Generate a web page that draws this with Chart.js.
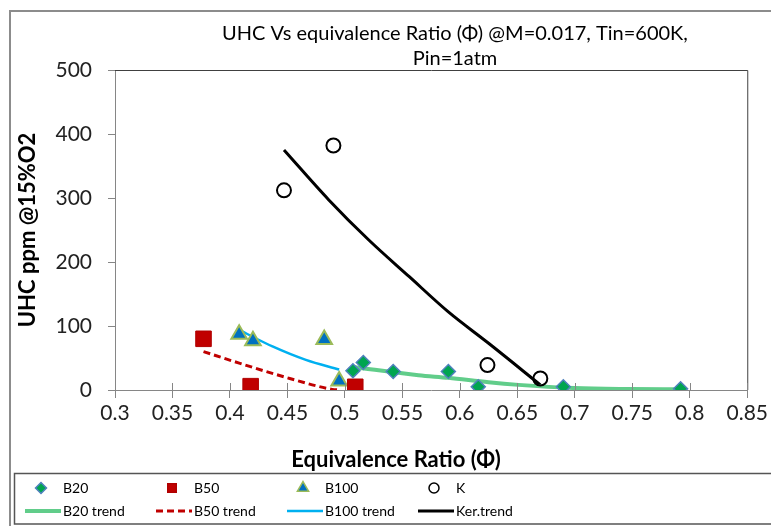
<!DOCTYPE html>
<html>
<head>
<meta charset="utf-8">
<script src="https://cdn.jsdelivr.net/npm/chart.js@4.4.1/dist/chart.umd.min.js"></script>
<style>
  html, body { margin: 0; padding: 0; background: #fff; }
  canvas { display: block; }
</style>
</head>
<body>
<canvas id="uhcChart" width="771" height="526"></canvas>
<script>
// measured points
const phiB20 = [0.507, 0.516, 0.542, 0.590, 0.616, 0.690, 0.792];
const uhcB20 = [30, 43, 29, 29, 5, 5, 2];
const phiB50 = [0.377, 0.418, 0.509];
const uhcB50 = [80, 6, 5];
const phiB100 = [0.408, 0.420, 0.482, 0.495];
const uhcB100 = [87, 77, 79, 14];
const phiK = [0.447, 0.490, 0.624, 0.670];
const uhcK = [312, 382, 39, 18];

// trend lines
const phiB20Trend = [0.507, 0.564, 0.590, 0.625, 0.651, 0.700, 0.749, 0.792];
const uhcB20Trend = [36, 23, 19, 12, 8, 3, 1.5, 1];
const phiB50Trend = [0.377, 0.408, 0.452, 0.489, 0.495];
const uhcB50Trend = [60, 42, 18, 1, 0];
const phiB100Trend = [0.408, 0.437, 0.466, 0.495];
const uhcB100Trend = [94, 68, 47, 32];
const phiKerTrend = [0.447, 0.486, 0.521, 0.556, 0.590, 0.625, 0.670];
const uhcKerTrend = [375, 297, 234, 177, 122, 73, 8];

const xTicks = [0.3, 0.35, 0.4, 0.45, 0.5, 0.55, 0.6, 0.65, 0.7, 0.75, 0.8, 0.85];
const yTicks = [0, 100, 200, 300, 400, 500];

const titleLines = ["UHC Vs equivalence Ratio (\u03A6) @M=0.017, Tin=600K,", "Pin=1atm"];
const xTitle = "Equivalence Ratio (\u03A6)";
const yTitle = "UHC ppm @15%O2";
const FONT = 'Lato, "Noto Sans", sans-serif';

function pts(xs, ys) {
  return xs.map((x, i) => ({ x: x, y: ys[i] }));
}

// border, titles and the boxed legend, drawn around the plot
const framePlugin = {
  id: "frame",
  beforeDraw(chart) {
    const ctx = chart.ctx;
    ctx.save();
    ctx.fillStyle = "#fff";
    ctx.fillRect(0, 0, chart.width, chart.height);
    ctx.strokeStyle = "#8c8c8c";
    ctx.lineWidth = 2;
    ctx.beginPath();
    ctx.moveTo(10, chart.height + 2);
    ctx.lineTo(10, 11);
    ctx.lineTo(chart.width + 2, 11);
    ctx.stroke();
    ctx.strokeStyle = "#555";
    ctx.lineWidth = 1.5;
    ctx.strokeRect(14.5, 473.5, chart.width + 10, 50.5);
    ctx.restore();
  },
  afterDraw(chart) {
    const ctx = chart.ctx;
    const area = chart.chartArea;
    const xs = chart.scales.x;
    ctx.save();
    // plot area top / right edge
    ctx.strokeStyle = "#404040";
    ctx.lineWidth = 1;
    ctx.beginPath();
    ctx.moveTo(area.left, area.top + 0.5);
    ctx.lineTo(area.right + 0.5, area.top + 0.5);
    ctx.lineTo(area.right + 0.5, area.bottom);
    ctx.stroke();
    // inner half of x tick marks
    ctx.strokeStyle = "#868686";
    ctx.beginPath();
    xTicks.forEach(v => {
      const px = Math.round(xs.getPixelForValue(v)) + 0.5;
      ctx.moveTo(px, area.bottom - 7);
      ctx.lineTo(px, area.bottom);
    });
    ctx.stroke();

    // chart title
    ctx.fillStyle = "#000";
    ctx.font = "20px " + FONT;
    ctx.textAlign = "center";
    ctx.textBaseline = "middle";
    ctx.fillText(titleLines[0], 455, 34);
    ctx.fillText(titleLines[1], 455, 59);

    // x axis title
    ctx.font = "bold 22px " + FONT;
    ctx.fillText(xTitle, 396, 460);

    // legend
    const cols = [41, 172, 303, 434];
    const markerSize = [5.5, 6, 6.5, 5];
    const ds = chart.data.datasets;
    ctx.font = "14px " + FONT;
    ctx.textAlign = "left";
    for (let i = 0; i < 4; i++) {
      const m = ds[i];
      ctx.fillStyle = m.backgroundColor;
      ctx.strokeStyle = m.borderColor;
      ctx.lineWidth = 1.5;
      Chart.helpers.drawPoint(ctx, {
        pointStyle: m.pointStyle, radius: markerSize[i], rotation: 0, borderWidth: 1.5
      }, cols[i], 488);
      ctx.fillStyle = "#000";
      ctx.fillText(m.label, cols[i] + 22, 488);

      const t = ds[i + 4];
      ctx.strokeStyle = t.borderColor;
      ctx.lineWidth = t.borderWidth;
      ctx.setLineDash(t.borderDash || []);
      ctx.beginPath();
      ctx.moveTo(cols[i] - 16, 511);
      ctx.lineTo(cols[i] + 20, 511);
      ctx.stroke();
      ctx.setLineDash([]);
      ctx.fillStyle = "#000";
      ctx.fillText(t.label, cols[i] + 22, 511);
    }
    ctx.restore();
  }
};

const chart = new Chart("uhcChart", {
  type: "scatter",
  data: {
    datasets: [
      {
        label: "B20",
        data: pts(phiB20, uhcB20),
        pointStyle: "rectRot",
        pointRadius: 7,
        backgroundColor: "#00A550",
        borderColor: "#4F81BD",
        borderWidth: 1.5,
      },
      {
        label: "B50",
        data: pts(phiB50, uhcB50),
        pointStyle: "rect",
        pointRadius: 11,
        backgroundColor: "#C00000",
        borderColor: "#B00000",
        borderWidth: 1,
      },
      {
        label: "B100",
        data: pts(phiB100, uhcB100),
        pointStyle: "triangle",
        pointRadius: 9,
        backgroundColor: "#0070C0",
        borderColor: "#9BBB59",
        borderWidth: 2,
      },
      {
        label: "K",
        data: pts(phiK, uhcK),
        pointStyle: "circle",
        pointRadius: 7,
        backgroundColor: "rgba(255,255,255,0)",
        borderColor: "#000",
        borderWidth: 2,
      },
      {
        label: "B20 trend",
        type: "line",
        data: pts(phiB20Trend, uhcB20Trend),
        borderColor: "rgba(80,200,125,0.9)",
        borderWidth: 4,
        pointRadius: 0,
        cubicInterpolationMode: "monotone",
        fill: false,
      },
      {
        label: "B50 trend",
        type: "line",
        data: pts(phiB50Trend, uhcB50Trend),
        borderColor: "#C00000",
        borderWidth: 3,
        borderDash: [7, 4],
        pointRadius: 0,
        cubicInterpolationMode: "monotone",
        fill: false,
      },
      {
        label: "B100 trend",
        type: "line",
        data: pts(phiB100Trend, uhcB100Trend),
        borderColor: "#00B0F0",
        borderWidth: 2.5,
        pointRadius: 0,
        cubicInterpolationMode: "monotone",
        fill: false,
      },
      {
        label: "Ker.trend",
        type: "line",
        data: pts(phiKerTrend, uhcKerTrend),
        borderColor: "#000",
        borderWidth: 3,
        pointRadius: 0,
        cubicInterpolationMode: "monotone",
        fill: false,
      },
    ],
  },
  options: {
    responsive: false,
    animation: false,
    events: [],
    layout: { padding: { left: 10, top: 70, right: 20, bottom: 56 } },
    plugins: {
      legend: { display: false },
      tooltip: { enabled: false },
    },
    scales: {
      x: {
        type: "linear",
        min: 0.3,
        max: 0.85,
        afterBuildTicks: s => { s.ticks = xTicks.map(v => ({ value: v })); },
        afterFit: s => { s.height = 80; },
        grid: { drawOnChartArea: false, tickLength: 8, color: "#868686" },
        border: { color: "#868686", width: 1 },
        ticks: {
          autoSkip: false,
          maxRotation: 0,
          padding: 3,
          color: "#222",
          font: { family: FONT, size: 21 },
          callback: v => String(v),
        },
      },
      y: {
        min: 0,
        max: 500,
        afterBuildTicks: s => { s.ticks = yTicks.map(v => ({ value: v })); },
        afterFit: s => { s.width = 105; },
        grid: { drawOnChartArea: false, tickLength: 7, color: "#868686" },
        border: { color: "#868686", width: 1 },
        ticks: {
          padding: 16,
          color: "#222",
          font: { family: FONT, size: 21 },
        },
        title: {
          display: true,
          text: yTitle,
          color: "#000",
          font: { family: FONT, size: 22, weight: "bold" },
          padding: { top: 5, bottom: 0 },
        },
      },
    },
  },
  plugins: [framePlugin],
});
</script>
</body>
</html>
